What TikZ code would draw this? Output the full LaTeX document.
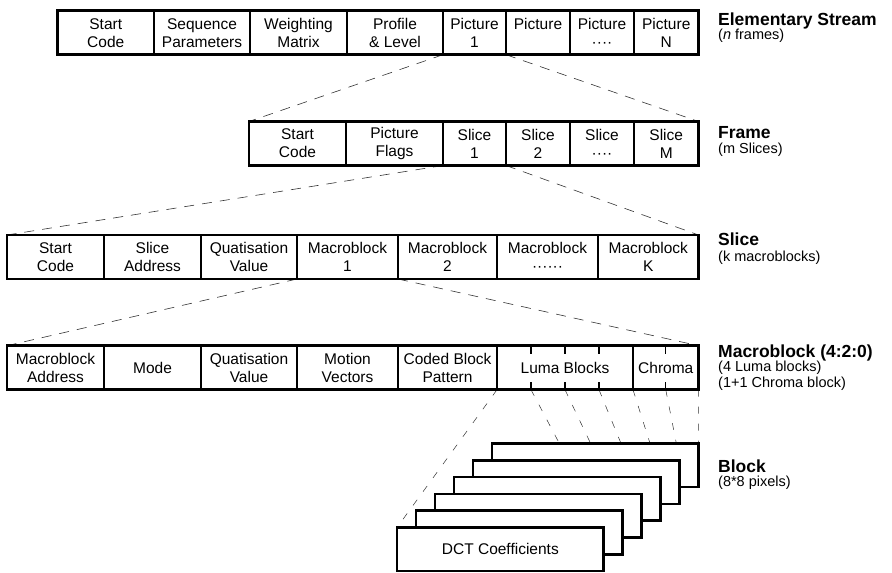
\documentclass[tikz,border=0pt]{standalone}
\usepackage{fontspec}
\setmainfont{Liberation Sans}
\usetikzlibrary{positioning,calc,backgrounds}

\newcommand{\cellfont}{\fontsize{15.5}{18}\selectfont}
\newcommand{\titlefont}{\fontsize{17.5}{20}\selectfont\bfseries}
\newcommand{\notefont}{\fontsize{14.5}{16}\selectfont}

\tikzset{
  cell/.style={draw, line width=1.2pt, outer sep=0pt, inner sep=0pt,
    minimum height=44pt, anchor=west, align=center, font=\cellfont},
  outline/.style={line width=2.7pt},
  zoomline/.style={dash pattern=on 10pt off 8pt, line width=0.6pt, black!80},
  blockline/.style={dash pattern=on 7pt off 10pt, line width=0.5pt, black!80},
  blockbox/.style={draw, line width=2.7pt, fill=white, outer sep=0pt,
    minimum width=206.7pt, minimum height=43.6pt, anchor=north west, font=\cellfont},
  tick/.style={line width=1.2pt},
  rowtitle/.style={anchor=base west, inner sep=0pt, font=\titlefont},
  rownote/.style={anchor=base west, inner sep=0pt, font=\notefont},
}

\begin{document}
\begin{tikzpicture}[x=1pt, y=-1pt]
  \useasboundingbox (0,0) rectangle (892,573);

  % Elementary stream
  \foreach \l/\r/\txt [count=\i] in {57.5/154/{Start\\Code}, 154/250/{Sequence\\Parameters},
      250/347/{Weighting\\Matrix}, 347/443/{Profile\\\& Level}, 443/506/{Picture\\1},
      506/570/{Picture\\\phantom{1}}, 570/634/{Picture\\····}, 634/698.5/{Picture\\N}}
    \node[cell, minimum width={(\r-\l)*1pt}] (es-\i) at (\l,32.7) {\txt};
  \draw[outline] (es-1.north west) rectangle (es-8.south east);

  % Frame
  \foreach \l/\r/\txt [count=\i] in {249/346/{Start\\Code}, 346/443/{Picture\\Flags},
      443/506/{Slice\\1}, 506/570/{Slice\\2}, 570/634/{Slice\\····}, 634/698.5/{Slice\\M}}
    \node[cell, minimum width={(\r-\l)*1pt}] (fr-\i) at (\l,143.5) {\txt};
  \draw[outline] (fr-1.north west) rectangle (fr-6.south east);

  % Slice
  \foreach \l/\r/\txt [count=\i] in {7/104/{Start\\Code}, 104/201/{Slice\\Address},
      201/297/{Quatisation\\Value}, 297/398/{Macroblock\\1}, 398/497/{Macroblock\\2},
      497/598/{Macroblock\\······}, 598/698.5/{Macroblock\\K}}
    \node[cell, minimum width={(\r-\l)*1pt}] (sl-\i) at (\l,257) {\txt};
  \draw[outline] (sl-1.north west) rectangle (sl-7.south east);

  % Macroblock
  \foreach \l/\r/\txt [count=\i] in {7/104/{Macroblock\\Address}, 104/201/{Mode},
      201/297/{Quatisation\\Value}, 297/398/{Motion\\Vectors}, 398/497/{Coded Block\\Pattern},
      497/633/{Luma Blocks}, 633/698.5/{Chroma}}
    \node[cell, minimum width={(\r-\l)*1pt}] (mb-\i) at (\l,367.7) {\txt};
  \draw[outline] (mb-1.north west) rectangle (mb-7.south east);

  % luma / chroma sub-blocks
  \foreach \k in {0,...,4} {
    \coordinate (sb-\k) at ($(mb-6.south west)!\k/4!(mb-6.south east)$);
    \coordinate (st-\k) at ($(mb-6.north west)!\k/4!(mb-6.north east)$);
  }
  \coordinate (sb-5) at ($(mb-7.south west)!0.5!(mb-7.south east)$);
  \coordinate (st-5) at ($(mb-7.north west)!0.5!(mb-7.north east)$);
  \coordinate (sb-6) at (mb-7.south east);
  \foreach \k in {1,2,3,5} {
    \draw[tick] (sb-\k) -- ++(0,-8);
    \draw[tick] (st-\k) -- ++(0,8);
  }

  % 8x8 blocks, back to front
  \foreach \i in {6,...,2}
    \node[blockbox] (blk-\i) at ({397+19*(\i-1)}, {527.5-16.8*(\i-1)}) {};
  \node[blockbox] (blk-1) at (397,527.5) {DCT Coefficients};

  % zoom lines
  \begin{scope}[on background layer]
    \draw[zoomline] (es-5.south west) -- (fr-1.north west);
    \draw[zoomline] (es-5.south east) -- (fr-6.north east);
    \draw[zoomline] (fr-3.south west) -- (sl-1.north west);
    \draw[zoomline] (fr-3.south east) -- (sl-7.north east);
    \draw[zoomline] (sl-4.south west) -- (mb-1.north west);
    \draw[zoomline] (sl-4.south east) -- (mb-7.north east);
    \draw[blockline] (sb-0) -- (blk-1.north west);
    \foreach \k in {1,...,6}
      \draw[blockline] (sb-\k) -- (blk-\k.north east);
  \end{scope}

  % row labels
  \node[rowtitle] (t-es) at (718,25) {Elementary Stream};
  \node[rownote] (n-es) at (718,39) {(\textit{n} frames)};
  \node[rowtitle] (t-fr) at (718,138) {Frame};
  \node[rownote] (n-fr) at (718,153) {(m Slices)};
  \node[rowtitle] (t-sl) at (718,245) {Slice};
  \node[rownote] (n-sl) at (718,261) {(k macroblocks)};
  \node[rowtitle] (t-mb) at (718,357) {Macroblock (4:2:0)};
  \node[rownote] (n-mb) at (718,371) {(4 Luma blocks)};
  \node[rownote] (n-mb2) at (718,387) {(1+1 Chroma block)};
  \node[rowtitle] (t-blk) at (718,472) {Block};
  \node[rownote] (n-blk) at (718,486) {(8*8 pixels)};
\end{tikzpicture}
\end{document}
